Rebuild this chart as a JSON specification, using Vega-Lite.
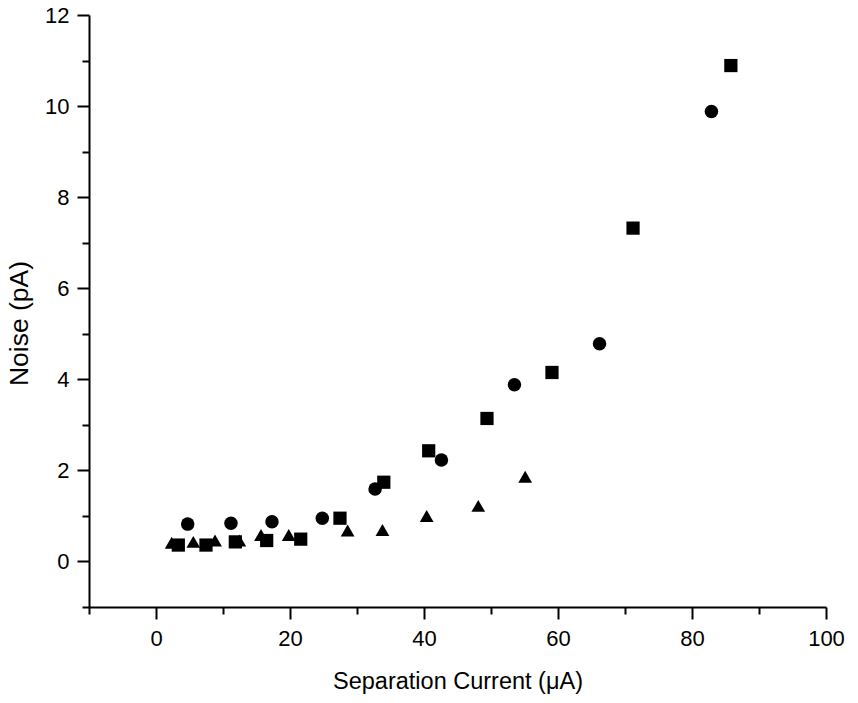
{
  "$schema": "https://vega.github.io/schema/vega-lite/v6.json",
  "width": 737,
  "height": 592,
  "autosize": "none",
  "padding": {"left": 89, "top": 15, "right": 32, "bottom": 96},
  "config": {"view": {"stroke": null}, "font": "Liberation Sans"},
  "data": {
    "values": [
      {"series": "S1", "current": 3.33, "noise": 0.36},
      {"series": "S1", "current": 7.46, "noise": 0.36},
      {"series": "S1", "current": 11.84, "noise": 0.43},
      {"series": "S1", "current": 16.52, "noise": 0.46},
      {"series": "S1", "current": 21.6, "noise": 0.49},
      {"series": "S1", "current": 27.46, "noise": 0.95},
      {"series": "S1", "current": 34.0, "noise": 1.74},
      {"series": "S1", "current": 40.7, "noise": 2.43},
      {"series": "S1", "current": 49.4, "noise": 3.14},
      {"series": "S1", "current": 59.1, "noise": 4.15},
      {"series": "S1", "current": 71.2, "noise": 7.32},
      {"series": "S1", "current": 85.8, "noise": 10.89},
      {"series": "S2", "current": 4.73, "noise": 0.82},
      {"series": "S2", "current": 11.19, "noise": 0.84},
      {"series": "S2", "current": 17.31, "noise": 0.87},
      {"series": "S2", "current": 24.82, "noise": 0.95},
      {"series": "S2", "current": 32.7, "noise": 1.59},
      {"series": "S2", "current": 42.6, "noise": 2.23},
      {"series": "S2", "current": 53.5, "noise": 3.88},
      {"series": "S2", "current": 66.2, "noise": 4.78},
      {"series": "S2", "current": 82.9, "noise": 9.88},
      {"series": "S3", "current": 2.34, "noise": 0.41},
      {"series": "S3", "current": 5.57, "noise": 0.43},
      {"series": "S3", "current": 8.81, "noise": 0.46},
      {"series": "S3", "current": 12.43, "noise": 0.46},
      {"series": "S3", "current": 15.67, "noise": 0.58},
      {"series": "S3", "current": 19.81, "noise": 0.58},
      {"series": "S3", "current": 28.6, "noise": 0.68},
      {"series": "S3", "current": 33.8, "noise": 0.69},
      {"series": "S3", "current": 40.4, "noise": 1.0},
      {"series": "S3", "current": 48.1, "noise": 1.22},
      {"series": "S3", "current": 55.1, "noise": 1.86}
    ]
  },
  "layer": [
    {
      "mark": {"type": "point", "filled": true, "opacity": 1, "color": "black"},
      "encoding": {
        "x": {
          "field": "current", "type": "quantitative",
          "scale": {"domain": [-10, 100], "nice": false, "zero": false},
          "axis": {
            "orient": "bottom", "values": [0, 20, 40, 60, 80, 100], "grid": false,
            "title": "Separation Current (μA)",
            "domainColor": "black", "domainWidth": 2,
            "tickColor": "black", "tickWidth": 2, "tickSize": 12,
            "labelFontSize": 22, "labelColor": "black", "labelPadding": 9, "labelFlush": false,
            "titleFontSize": 23.5, "titleFontWeight": "normal", "titleColor": "black", "titlePadding": 20
          }
        },
        "y": {
          "field": "noise", "type": "quantitative",
          "scale": {"domain": [-1, 12], "nice": false, "zero": false},
          "axis": {
            "orient": "left", "values": [0, 2, 4, 6, 8, 10, 12], "grid": false,
            "title": "Noise (pA)",
            "domainColor": "black", "domainWidth": 2,
            "tickColor": "black", "tickWidth": 2, "tickSize": 12,
            "labelFontSize": 22, "labelColor": "black", "labelPadding": 8, "labelFlush": false,
            "titleFontSize": 26.5, "titleFontWeight": "normal", "titleColor": "black", "titlePadding": 11,
            "titleY": 308
          }
        },
        "shape": {
          "field": "series", "type": "nominal",
          "scale": {"domain": ["S1", "S2", "S3"], "range": ["square", "circle", "triangle-up"]},
          "legend": null
        },
        "size": {
          "field": "series", "type": "nominal",
          "scale": {"domain": ["S1", "S2", "S3"], "range": [175, 190, 330]},
          "legend": null
        }
      }
    },
    {
      "mark": {"type": "point", "opacity": 0},
      "encoding": {
        "x": {
          "field": "current", "type": "quantitative",
          "scale": {"domain": [-10, 100], "nice": false, "zero": false},
          "axis": {
            "orient": "bottom", "values": [-10, 10, 30, 50, 70, 90], "grid": false,
            "title": null, "labels": false, "domain": false,
            "tickColor": "black", "tickWidth": 2, "tickSize": 7
          }
        },
        "y": {
          "field": "noise", "type": "quantitative",
          "scale": {"domain": [-1, 12], "nice": false, "zero": false},
          "axis": {
            "orient": "left", "values": [-1, 1, 3, 5, 7, 9, 11], "grid": false,
            "title": null, "labels": false, "domain": false,
            "tickColor": "black", "tickWidth": 2, "tickSize": 7
          }
        }
      }
    }
  ],
  "resolve": {"axis": {"x": "independent", "y": "independent"}}
}
